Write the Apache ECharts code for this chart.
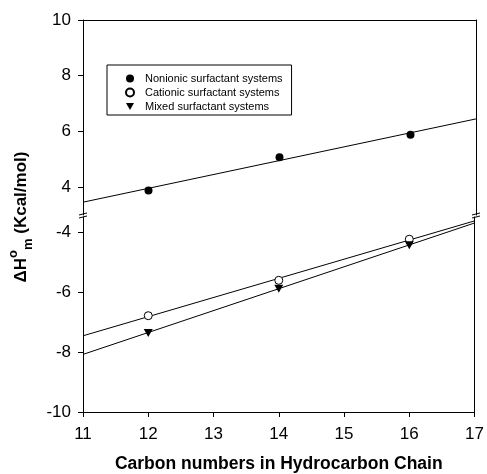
<!DOCTYPE html>
<html>
<head>
<meta charset="utf-8">
<script src="https://cdn.jsdelivr.net/npm/echarts@6/dist/echarts.min.js"></script>
<style>
  html, body { margin: 0; padding: 0; background: #fff; }
  #charts { width: 487px; height: 474px; }
</style>
</head>
<body>
<div id="charts"></div>
<script>
// carbon numbers (x)
var carbons = [12, 14, 16];
// measured points
var nonionic = [3.88, 5.07, 5.88];
var cationic = [-6.79, -5.61, -4.24];
var mixed = [-7.37, -5.89, -4.44];
// fitted lines, read at x = 11 and x = 17
var fitX = [11, 17];
var nonionicFit = [3.46, 6.45];
var cationicFit = [-7.46, -3.63];
var mixedFit = [-8.08, -3.70];
// tick labels
var xTicks = [11, 12, 13, 14, 15, 16, 17];
var topTicks = [4, 6, 8, 10];
var bottomTicks = [-10, -8, -6, -4];

var font = 'Arial, "Liberation Sans", sans-serif';

function pts(xs, ys) {
  return xs.map(function (x, i) { return [x, ys[i]]; });
}

var chartDom = document.getElementById('charts');
var myChart = echarts.init(chartDom);

var hiddenAxis = {
  axisLine: { show: true, lineStyle: { color: '#000', width: 1 } },
  axisTick: { show: false },
  axisLabel: { show: false },
  splitLine: { show: false }
};

var tickLabel = { fontFamily: font, fontSize: 17, color: '#000', margin: 12 };

var triDown = 'path://M0,0 L10,0 L5,9 Z';

var option = {
  animation: false,
  backgroundColor: '#fff',
  grid: [
    { left: 83, right: 11, top: 20, height: 195 },
    { left: 83, right: 11, top: 217, bottom: 61 }
  ],
  xAxis: [
    Object.assign({ gridIndex: 0, type: 'value', min: 11, max: 17, position: 'top' }, hiddenAxis),
    {
      gridIndex: 1, type: 'value', min: 11, max: 17, interval: 1,
      name: 'Carbon numbers in Hydrocarbon Chain',
      nameLocation: 'middle', nameGap: 43,
      nameTextStyle: { fontFamily: font, fontSize: 17.5, fontWeight: 'bold', color: '#000' },
      axisLine: { lineStyle: { color: '#000', width: 1 } },
      axisTick: { show: true, inside: false, length: 5, lineStyle: { color: '#000' }, customValues: xTicks },
      axisLabel: Object.assign({}, tickLabel, { margin: 14, customValues: xTicks }),
      splitLine: { show: false }
    }
  ],
  yAxis: [
    {
      gridIndex: 0, type: 'value', min: 3, max: 10,
      axisLine: { show: true, lineStyle: { color: '#000', width: 1 } },
      axisTick: { show: true, length: 5, lineStyle: { color: '#000' }, customValues: topTicks },
      axisLabel: Object.assign({}, tickLabel, { customValues: topTicks }),
      splitLine: { show: false }
    },
    Object.assign({ gridIndex: 0, type: 'value', min: 3, max: 10, position: 'right' }, hiddenAxis),
    {
      gridIndex: 1, type: 'value', min: -10, max: -3.5,
      axisLine: { show: true, lineStyle: { color: '#000', width: 1 } },
      axisTick: { show: true, length: 5, lineStyle: { color: '#000' }, customValues: bottomTicks },
      axisLabel: Object.assign({}, tickLabel, { customValues: bottomTicks }),
      splitLine: { show: false }
    },
    Object.assign({ gridIndex: 1, type: 'value', min: -10, max: -3.5, position: 'right' }, hiddenAxis)
  ],
  legend: {
    left: 107, top: 65,
    orient: 'vertical',
    padding: [7, 9, 2, 18],
    itemWidth: 8, itemHeight: 8, itemGap: 1,
    borderColor: '#000', borderWidth: 1,
    textStyle: { fontFamily: font, fontSize: 11, color: '#000', lineHeight: 13, padding: [0, 0, 0, 6] },
    data: ['Nonionic surfactant systems', 'Cationic surfactant systems', 'Mixed surfactant systems']
  },
  series: [
    {
      name: 'nonionicFit', type: 'line', xAxisIndex: 0, yAxisIndex: 0,
      data: pts(fitX, nonionicFit), symbol: 'none',
      lineStyle: { color: '#000', width: 1 }, z: 2
    },
    {
      name: 'cationicFit', type: 'line', xAxisIndex: 1, yAxisIndex: 2,
      data: pts(fitX, cationicFit), symbol: 'none',
      lineStyle: { color: '#000', width: 1 }, z: 2
    },
    {
      name: 'mixedFit', type: 'line', xAxisIndex: 1, yAxisIndex: 2,
      data: pts(fitX, mixedFit), symbol: 'none',
      lineStyle: { color: '#000', width: 1 }, z: 2
    },
    {
      name: 'Nonionic surfactant systems', type: 'scatter', xAxisIndex: 0, yAxisIndex: 0,
      data: pts(carbons, nonionic), symbol: 'circle', symbolSize: 8,
      itemStyle: { color: '#000', opacity: 1 }, z: 5
    },
    {
      name: 'Cationic surfactant systems', type: 'scatter', xAxisIndex: 1, yAxisIndex: 2,
      data: pts(carbons, cationic), symbol: 'circle', symbolSize: 8,
      itemStyle: { color: '#fff', borderColor: '#000', borderWidth: 1, opacity: 1 }, z: 5
    },
    {
      name: 'Mixed surfactant systems', type: 'scatter', xAxisIndex: 1, yAxisIndex: 2,
      data: pts(carbons, mixed), symbol: triDown, symbolSize: [9, 8],
      itemStyle: { color: '#000', opacity: 1 }, z: 5
    }
  ],
  graphic: [
    {
      type: 'text', x: 21, y: 217, rotation: Math.PI / 2,
      style: {
        text: '{a|ΔH}{sup|o}{sub|m}{a| (Kcal/mol)}',
        align: 'center', verticalAlign: 'middle',
        fill: '#000',
        rich: {
          a: { fontFamily: font, fontSize: 17, fontWeight: 'bold', lineHeight: 28, verticalAlign: 'middle', fill: '#000' },
          sup: { fontFamily: font, fontSize: 13, fontWeight: 'bold', lineHeight: 14, verticalAlign: 'top', fill: '#000' },
          sub: { fontFamily: font, fontSize: 13, fontWeight: 'bold', lineHeight: 14, verticalAlign: 'bottom', fill: '#000' }
        }
      }
    },
    // axis break marks
    { type: 'line', shape: { x1: 79, y1: 215, x2: 87, y2: 213 }, style: { stroke: '#000', lineWidth: 1 } },
    { type: 'line', shape: { x1: 79, y1: 218, x2: 87, y2: 216 }, style: { stroke: '#000', lineWidth: 1 } },
    { type: 'line', shape: { x1: 472, y1: 215, x2: 480, y2: 213 }, style: { stroke: '#000', lineWidth: 1 } },
    { type: 'line', shape: { x1: 472, y1: 218, x2: 480, y2: 216 }, style: { stroke: '#000', lineWidth: 1 } }
  ]
};

option && myChart.setOption(option);
</script>
</body>
</html>
